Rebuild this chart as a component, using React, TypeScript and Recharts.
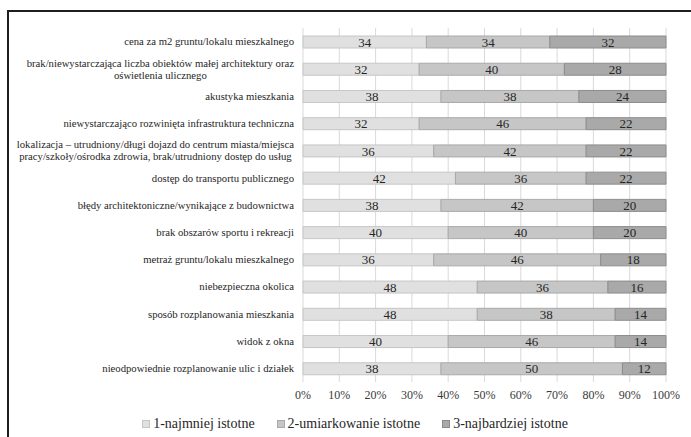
import React from 'react'
import { BarChart, Bar, XAxis, YAxis, CartesianGrid, Legend, LabelList } from 'recharts'

const categories = [
  'cena za m2 gruntu/lokalu mieszkalnego',
  'brak/niewystarczająca liczba obiektów małej architektury oraz\noświetlenia ulicznego',
  'akustyka mieszkania',
  'niewystarczająco rozwinięta infrastruktura techniczna',
  'lokalizacja – utrudniony/długi dojazd do centrum miasta/miejsca\npracy/szkoły/ośrodka zdrowia, brak/utrudniony dostęp do usług',
  'dostęp do transportu publicznego',
  'błędy architektoniczne/wynikające z budownictwa',
  'brak obszarów sportu i rekreacji',
  'metraż gruntu/lokalu mieszkalnego',
  'niebezpieczna okolica',
  'sposób rozplanowania mieszkania',
  'widok z okna',
  'nieodpowiednie rozplanowanie ulic i działek',
]

const leastImportant = [34, 32, 38, 32, 36, 42, 38, 40, 36, 48, 48, 40, 38]
const moderatelyImportant = [34, 40, 38, 46, 42, 36, 42, 40, 46, 36, 38, 46, 50]
const mostImportant = [32, 28, 24, 22, 22, 22, 20, 20, 18, 16, 14, 14, 12]

const seriesNames = ['1-najmniej istotne', '2-umiarkowanie istotne', '3-najbardziej istotne']
const xTicks = [0, 10, 20, 30, 40, 50, 60, 70, 80, 90, 100]

const FONT = 'Liberation Serif'
const LABEL_SIZE = 10.7
const fills = ['#e0e0e0', '#c6c6c6', '#a9a9a9']
const strokes = ['#c6c6c6', '#a9a9a9', '#8c8c8c']

const data = categories.map((name, i) => ({
  name,
  s1: leastImportant[i],
  s2: moderatelyImportant[i],
  s3: mostImportant[i],
}))

let measureCtx: CanvasRenderingContext2D | null = null
function textWidth(t: string) {
  if (!measureCtx) measureCtx = document.createElement('canvas').getContext('2d')
  if (!measureCtx) return t.length * 4.5
  measureCtx.font = `${LABEL_SIZE}px "${FONT}"`
  return measureCtx.measureText(t).width
}

// category label, wrapped lines are centred on each other like Excel does
const CategoryTick = ({ x, y, payload }: any) => {
  const lines: string[] = String(payload.value).split('\n')
  const right = x - 1
  if (lines.length === 1) {
    return (
      <text x={right} y={y} dy="0.35em" textAnchor="end" fontSize={LABEL_SIZE} fontFamily={FONT} fill="#262626">
        {lines[0]}
      </text>
    )
  }
  const maxW = Math.max(...lines.map(textWidth))
  const cx = right - maxW / 2
  const lh = 12
  const start = y - ((lines.length - 1) * lh) / 2
  return (
    <text textAnchor="middle" fontSize={LABEL_SIZE} fontFamily={FONT} fill="#262626">
      {lines.map((l, i) => (
        <tspan key={i} x={cx} y={start + i * lh} dy="0.35em">{l}</tspan>
      ))}
    </text>
  )
}

const renderLegend = () => (
  <div
    style={{
      display: 'flex',
      justifyContent: 'center',
      alignItems: 'center',
      gap: 22,
      paddingLeft: 19,
      height: 22,
      fontFamily: FONT,
      fontSize: 14,
      color: '#262626',
    }}
  >
    {seriesNames.map((n, i) => (
      <span key={n} style={{ display: 'flex', alignItems: 'center' }}>
        <span
          style={{
            width: 8,
            height: 8,
            boxSizing: 'border-box',
            background: fills[i],
            border: `1px solid ${strokes[i]}`,
            marginRight: 3,
          }}
        />
        {n}
      </span>
    ))}
  </div>
)

export default function App() {
  return (
    <div style={{ position: 'absolute', left: 0, top: 0, width: 691, height: 437, background: '#fff' }}>
      <div style={{ position: 'absolute', left: 7, top: 10, right: 0, height: 2, background: '#1e1e1e' }} />
      <div style={{ position: 'absolute', left: 7, top: 10, bottom: 0, width: 2, background: '#1e1e1e' }} />
      <BarChart
        width={691}
        height={437}
        data={data}
        layout="vertical"
        margin={{ top: 28, right: 25, bottom: 2, left: 0 }}
        style={{ position: 'absolute', left: 0, top: 0 }}
      >
        <CartesianGrid horizontal={false} stroke="#d9d9d9" />
        <XAxis
          type="number"
          domain={[0, 100]}
          ticks={xTicks}
          tickFormatter={v => `${v}%`}
          axisLine={false}
          tickLine={false}
          height={31}
          tick={{ fontSize: 12, fill: '#3a3a3a', fontFamily: FONT }}
          interval={0}
        />
        <YAxis
          type="category"
          dataKey="name"
          width={303}
          axisLine={false}
          tickLine={false}
          interval={0}
          tick={<CategoryTick />}
        />
        <Legend verticalAlign="bottom" content={renderLegend} wrapperStyle={{ left: 0, width: 691 }} />
        {['s1', 's2', 's3'].map((k, i) => (
          <Bar
            key={k}
            dataKey={k}
            name={seriesNames[i]}
            stackId="a"
            barSize={12}
            fill={fills[i]}
            stroke={strokes[i]}
            strokeWidth={1}
            isAnimationActive={false}
          >
            <LabelList dataKey={k} position="center" fontSize={13} fontFamily={FONT} fill="#262626" />
          </Bar>
        ))}
      </BarChart>
    </div>
  )
}
